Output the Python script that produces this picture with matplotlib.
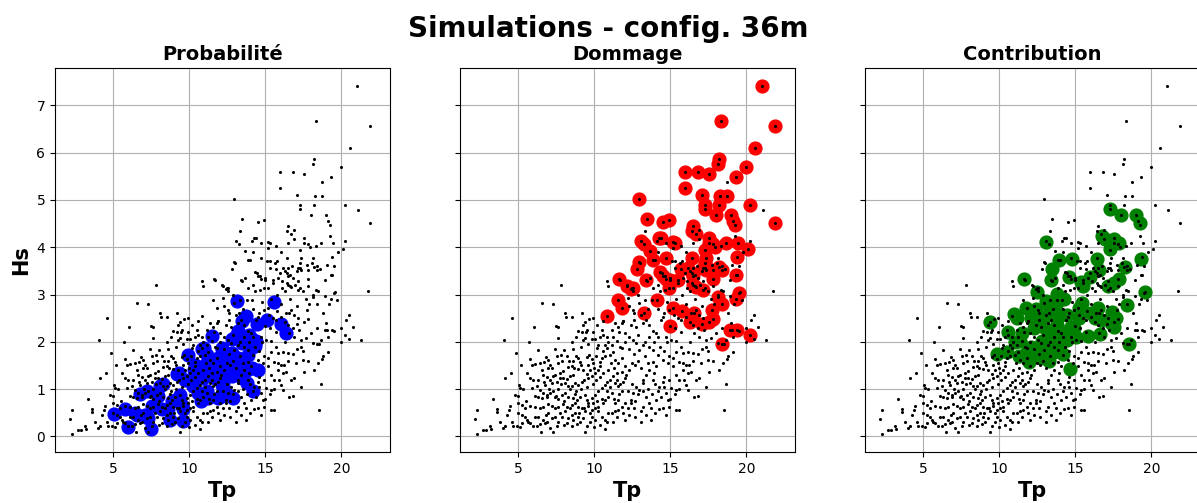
import matplotlib
matplotlib.use("Agg")
import matplotlib.pyplot as plt
import numpy as np

# sea states (Tp, Hs) not retained in the "Dommage" selection
cloud = [
    (7.80, 3.21), (6.58, 2.83), (7.30, 2.80), (4.60, 2.50), (6.05, 2.31), (8.07, 2.61), (8.11, 2.53),
    (8.51, 2.52), (9.21, 2.61), (9.65, 2.48), (9.93, 2.50), (9.38, 2.41), (9.27, 2.36), (7.63, 2.32),
    (7.48, 2.34), (8.94, 2.22), (9.21, 2.20), (9.45, 2.20), (9.49, 2.25), (9.38, 2.08), (9.27, 2.04),
    (9.82, 2.06), (10.04, 2.06), (10.37, 2.11), (10.59, 2.15), (10.81, 2.11), (10.48, 2.25), (11.14, 2.25),
    (11.36, 2.39), (11.58, 2.32), (11.80, 2.39), (12.02, 2.18), (11.91, 2.43), (4.03, 2.04), (5.72, 2.00),
    (7.58, 2.09), (6.27, 1.83), (6.80, 1.67), (6.93, 1.62), (6.71, 1.58), (7.08, 1.51), (6.97, 1.44),
    (6.53, 1.41), (6.42, 1.55), (5.76, 1.64), (6.09, 1.53), (7.41, 1.84), (8.02, 1.83), (7.80, 1.72),
    (7.52, 1.70), (8.62, 1.84), (8.77, 1.69), (8.94, 1.65), (9.05, 1.58), (9.49, 1.67), (9.65, 1.72),
    (9.82, 1.64), (9.93, 1.55), (9.71, 1.41), (9.49, 1.32), (9.27, 1.41), (8.94, 1.42), (8.68, 1.44),
    (8.51, 1.49), (8.29, 1.46), (7.96, 1.39), (7.74, 1.35), (7.41, 1.30), (7.26, 1.27), (7.08, 1.20),
    (7.19, 1.13), (7.52, 1.16), (7.74, 1.23), (7.96, 1.23), (8.18, 1.21), (8.40, 1.27), (8.62, 1.30),
    (8.07, 1.13), (8.29, 1.06), (8.51, 1.07), (8.73, 1.13), (8.94, 1.09), (9.16, 1.16), (9.34, 1.20),
    (9.60, 1.23), (9.82, 1.27), (10.04, 1.34), (10.26, 1.41), (10.37, 1.48), (10.37, 1.58), (10.48, 1.65),
    (10.70, 1.69), (11.03, 1.72), (11.25, 1.79), (11.36, 1.62), (11.58, 1.55), (11.80, 1.87), (11.84, 1.65),
    (12.02, 1.48), (10.15, 1.87), (10.26, 1.94), (10.70, 1.94), (10.81, 1.87), (11.14, 1.94), (11.47, 2.01),
    (11.69, 1.90), (4.82, 1.77), (4.49, 1.33), (4.10, 1.24), (5.04, 1.09), (5.11, 1.02), (5.76, 1.23),
    (5.98, 1.20), (6.31, 1.20), (6.71, 1.16), (6.75, 1.09), (6.20, 1.06), (5.87, 1.03), (6.42, 0.98),
    (6.64, 0.91), (6.86, 0.88), (7.08, 0.91), (6.09, 0.86), (6.31, 0.83), (6.53, 0.81), (6.86, 0.83),
    (7.41, 0.84), (7.63, 0.79), (7.85, 0.88), (8.07, 0.91), (8.29, 0.84), (8.62, 0.81), (8.84, 0.76),
    (9.05, 0.84), (9.38, 0.88), (9.49, 0.77), (9.60, 0.70), (9.82, 0.81), (10.04, 0.88), (10.26, 0.95),
    (10.48, 1.02), (10.70, 1.09), (10.81, 1.16), (11.03, 1.20), (11.25, 1.27), (11.47, 1.34), (11.80, 1.37),
    (12.02, 1.23), (11.36, 1.13), (11.58, 1.06), (11.80, 0.95), (11.14, 0.91), (10.92, 0.84), (10.70, 0.77),
    (10.59, 0.70), (10.26, 0.63), (10.04, 0.60), (9.82, 0.56), (9.71, 0.49), (9.38, 0.53), (9.16, 0.60),
    (8.94, 0.63), (8.73, 0.70), (8.51, 0.67), (8.18, 0.63), (7.96, 0.69), (7.63, 0.63), (7.41, 0.60),
    (7.19, 0.65), (6.97, 0.69), (6.64, 0.63), (6.42, 0.60), (6.09, 0.63), (5.76, 0.65), (5.44, 0.60),
    (5.22, 0.67), (4.99, 0.70), (4.78, 0.88), (4.45, 0.65), (3.31, 0.79), (3.57, 0.58), (3.62, 0.51),
    (4.23, 0.46), (2.30, 0.56), (2.15, 0.37), (2.26, 0.05), (2.69, 0.13), (2.85, 0.13), (3.13, 0.22),
    (3.18, 0.15), (4.01, 0.17), (4.12, 0.22), (4.56, 0.31), (4.67, 0.21), (4.89, 0.23), (4.99, 0.49),
    (5.11, 0.19), (5.22, 0.46), (5.22, 0.28), (5.44, 0.42), (5.55, 0.35), (5.66, 0.31), (5.76, 0.28),
    (5.98, 0.23), (6.20, 0.21), (6.31, 0.42), (6.42, 0.27), (6.64, 0.35), (6.75, 0.28), (6.80, 0.46),
    (6.97, 0.49), (7.08, 0.17), (7.30, 0.10), (7.19, 0.39), (7.41, 0.42), (7.52, 0.21), (7.63, 0.31),
    (7.74, 0.49), (7.85, 0.42), (8.07, 0.53), (8.18, 0.28), (8.29, 0.39), (8.51, 0.21), (8.62, 0.35),
    (8.73, 0.49), (8.84, 0.27), (8.94, 0.42), (9.05, 0.31), (9.27, 0.39), (9.38, 0.10), (9.49, 0.21),
    (9.71, 0.31), (9.82, 0.42), (10.04, 0.35), (10.26, 0.53), (10.48, 0.42), (10.70, 0.35), (10.81, 0.31),
    (10.92, 0.49), (11.14, 0.49), (11.36, 0.53), (11.58, 0.56), (11.80, 0.63), (12.02, 0.70), (11.58, 0.77),
    (11.36, 0.70), (10.81, 3.28), (10.92, 3.18), (11.69, 3.31), (12.13, 3.21),
    (12.30, 2.75), (12.52, 2.67), (12.96, 2.82), (13.07, 2.57), (12.63, 2.46), (12.41, 2.36), (12.74, 2.32),
    (13.18, 2.39), (13.40, 2.46), (13.62, 2.36), (13.84, 2.22), (14.06, 2.18), (14.17, 2.11), (14.39, 2.46),
    (14.50, 2.53), (14.61, 2.60), (14.94, 2.67), (15.26, 2.57), (15.48, 2.50), (15.70, 2.46), (16.03, 2.53),
    (16.36, 2.60), (16.69, 2.67), (16.91, 2.57), (17.13, 2.50), (16.47, 2.36), (16.58, 2.18), (16.91, 2.11),
    (17.35, 2.04), (17.68, 2.08), (18.00, 2.18), (17.35, 1.90), (18.11, 1.97), (18.66, 2.04), (19.10, 2.11),
    (19.54, 2.22), (19.98, 2.29), (20.31, 2.46), (20.53, 2.57), (20.75, 2.32), (21.30, 2.03), (14.72, 2.11),
    (15.04, 2.04), (15.37, 2.01), (15.70, 1.90), (15.37, 1.79), (15.81, 1.76), (16.14, 1.79), (16.47, 1.77),
    (15.59, 1.58), (16.03, 1.51), (15.81, 1.41), (16.14, 1.34), (16.36, 1.37), (16.69, 1.20), (16.91, 1.23),
    (17.02, 1.55), (17.46, 1.62), (17.57, 1.37), (17.35, 1.05), (16.03, 1.09), (16.14, 0.98), (15.37, 0.98),
    (15.59, 1.20), (14.61, 1.26), (14.50, 1.16), (14.28, 1.05), (14.17, 0.95), (14.39, 0.84), (14.72, 0.91),
    (14.83, 0.77), (14.94, 0.63), (15.37, 0.56), (15.04, 1.02), (15.15, 1.48), (14.83, 1.55), (14.50, 1.62),
    (14.17, 1.72), (13.84, 1.83), (13.62, 1.90), (13.18, 1.93), (12.96, 1.83), (12.74, 1.97), (12.52, 2.04),
    (12.30, 2.11), (13.84, 1.58), (14.06, 1.48), (13.62, 1.41), (13.40, 1.30), (13.84, 1.20), (13.18, 1.12),
    (12.96, 0.98), (12.74, 1.05), (12.52, 0.91), (13.40, 0.84), (13.62, 0.70), (14.06, 0.77), (13.18, 0.63),
    (12.63, 0.60), (13.07, 0.53), (13.73, 0.60), (14.28, 0.58), (13.07, 0.31), (12.41, 0.77), (16.58, 0.84),
    (18.55, 0.56), (18.71, 1.63), (18.77, 1.69), (18.44, 1.55), (19.10, 1.79), (19.98, 2.00), (18.67, 1.11),
    (18.55, 1.96), (19.00, 2.40), (19.08, 2.26), (20.53, 2.06), (15.60, 0.55), (16.83, 0.85),
    (13.01, 3.67), (13.99, 3.74), (15.09, 3.70), (15.31, 3.56), (15.64, 3.67), (15.97, 3.46), (16.30, 3.49),
    (16.52, 3.56), (16.73, 3.60), (17.06, 3.49), (17.28, 3.56), (17.72, 3.63), (18.05, 3.67), (18.38, 3.60),
    (18.60, 3.53), (19.04, 3.63), (19.37, 3.42), (16.62, 3.42), (16.84, 3.35), (17.17, 3.28), (16.41, 3.25),
    (16.08, 3.28), (15.86, 3.35), (15.53, 3.25), (14.98, 3.35), (14.65, 3.39), (14.43, 3.46), (13.66, 3.35),
    (13.45, 3.28), (13.88, 3.14), (14.21, 3.21), (14.32, 3.07), (14.65, 3.10), (15.20, 3.14), (15.75, 3.00),
    (16.08, 3.14), (16.30, 3.07), (16.62, 3.17), (16.95, 3.21), (17.28, 3.14), (17.50, 3.07), (17.83, 3.17),
    (18.16, 3.00), (18.49, 3.07), (18.93, 2.96), (19.59, 3.05), (19.70, 2.88), (12.90, 3.00), (12.57, 3.07),
    (12.46, 3.14), (12.24, 2.93), (13.34, 2.89), (13.77, 2.89), (21.78, 3.07),
    (18.75, 5.37), (21.10, 4.78), (13.34, 4.34), (19.23, 4.23), (20.27, 4.14), (16.91, 4.37), (16.88, 4.18),
    (15.68, 4.03), (16.51, 4.09), (18.36, 4.03), (15.15, 3.98), (15.29, 3.70), (15.75, 3.70), (18.16, 3.77),
    (14.13, 4.14), (14.70, 4.09),
]

# denser core of the cloud, estimated
core = [
    (8.40, 1.00), (8.80, 0.95), (9.10, 1.00), (9.50, 1.05), (9.90, 1.10), (10.10, 1.20), (10.40, 1.25),
    (10.60, 1.35), (10.90, 1.40), (11.10, 1.55), (11.30, 1.45), (11.50, 1.20), (11.70, 1.10), (11.90, 1.15),
    (12.10, 1.30), (12.30, 1.40), (12.50, 1.55), (12.70, 1.50), (12.90, 1.60), (13.10, 1.45), (13.30, 1.70),
    (13.50, 1.55), (9.00, 0.50), (9.30, 0.60), (9.60, 0.65), (9.90, 0.70), (10.20, 0.75), (10.50, 0.80),
    (10.80, 0.95), (11.00, 1.05), (11.30, 0.80), (11.60, 0.90), (11.90, 0.50), (12.20, 0.60), (12.40, 0.70),
    (12.70, 0.75), (12.90, 0.90), (13.20, 0.95), (13.50, 1.00), (13.80, 0.90), (14.00, 1.10), (8.30, 1.60),
    (8.60, 1.60), (9.10, 1.50), (9.60, 1.50), (10.00, 1.45), (10.10, 1.70), (10.60, 1.80), (10.90, 2.00),
    (11.20, 2.10), (11.60, 2.20), (12.00, 2.00), (12.30, 1.85), (12.60, 1.75), (12.90, 2.15), (13.30, 2.00),
    (13.60, 2.10), (13.90, 2.00), (14.30, 1.90), (14.60, 1.80), (14.90, 1.70), (15.20, 1.65), (7.00, 1.00),
    (7.30, 0.95), (7.60, 1.00), (7.80, 1.10), (8.00, 0.75), (8.40, 0.60), (8.70, 0.90), (6.60, 1.30),
    (6.90, 1.25), (7.20, 1.45), (7.60, 1.55), (7.90, 1.60), (8.20, 1.70), (8.50, 2.00), (8.80, 2.10),
    (9.10, 1.90), (9.60, 1.95), (9.90, 2.20), (10.20, 2.35), (10.60, 2.45), (10.00, 0.20), (10.40, 0.25),
    (10.70, 0.15), (11.20, 0.30), (11.50, 0.40), (12.00, 0.35), (12.30, 0.45), (12.70, 0.40), (13.40, 0.45),
    (13.70, 0.35), (14.00, 0.50), (14.50, 0.60), (14.70, 0.45), (15.00, 0.80), (15.30, 0.90), (15.60, 1.00),
    (15.90, 1.20), (16.20, 1.50), (16.50, 1.60), (16.80, 1.75), (17.10, 1.85), (17.50, 1.80), (17.80, 1.60),
    (18.20, 1.40), (15.40, 1.30), (15.80, 1.55), (16.30, 2.00), (16.80, 2.30), (17.20, 2.25), (18.40, 2.30),
    (18.80, 2.60), (19.20, 2.80), (17.90, 2.80), (15.70, 2.20), (15.30, 2.30), (14.80, 2.00), (14.60, 1.05),
    (14.90, 1.20), (13.90, 1.35), (13.20, 1.20), (12.50, 1.10), (12.20, 0.95), (11.90, 2.45), (12.60, 2.60),
    (13.50, 2.70), (14.20, 2.70), (14.80, 2.85), (15.40, 2.90), (16.00, 2.80), (16.60, 2.90), (17.10, 2.75),
    (17.70, 2.90), (18.30, 3.10), (18.90, 3.30), (19.50, 3.60), (19.80, 3.90), (16.00, 3.90), (14.20, 3.90),
    (3.80, 0.30), (4.40, 0.55), (5.00, 0.85), (5.30, 1.00), (5.50, 0.75), (5.60, 1.35), (5.90, 1.50),
    (6.10, 0.40), (6.50, 0.10), (6.90, 0.30), (7.50, 0.85), (8.00, 0.25), (8.50, 0.45), (5.20, 1.50),
]

# Dommage selection (red)
red = [
    (21.03, 7.40), (18.36, 6.66), (21.89, 6.56), (20.59, 6.10), (18.18, 5.87), (18.11, 5.76), (15.94, 5.60),
    (16.80, 5.60), (17.52, 5.54), (20.00, 5.70), (19.34, 5.48), (15.94, 5.25), (17.06, 5.10), (18.25, 5.08),
    (18.73, 5.08), (12.96, 5.03), (17.30, 4.89), (17.28, 4.80), (18.18, 4.89), (17.99, 4.69), (18.97, 4.69),
    (20.27, 4.90), (19.11, 4.55), (19.25, 4.48), (21.89, 4.52), (13.49, 4.60), (14.52, 4.53), (14.91, 4.57),
    (16.51, 4.44), (16.43, 4.35), (16.71, 4.27), (13.09, 4.13), (13.29, 4.06), (14.23, 4.19), (14.39, 4.20),
    (15.18, 4.12), (15.28, 4.08), (17.52, 4.20), (17.56, 4.08), (17.83, 4.07), (17.96, 4.01), (17.28, 3.95),
    (18.64, 4.09), (19.43, 4.09), (20.11, 3.97), (13.67, 3.91), (12.94, 3.69), (13.89, 3.74), (14.71, 3.77),
    (16.43, 3.77), (17.35, 3.77), (19.36, 3.79), (12.81, 3.54), (14.29, 3.48), (14.54, 3.40), (14.71, 3.32),
    (15.68, 3.54), (16.14, 3.56), (16.43, 3.45), (16.51, 3.39), (17.17, 3.56), (17.35, 3.52), (17.78, 3.52),
    (18.18, 3.59), (18.40, 3.51), (17.78, 3.32), (19.32, 3.41), (17.30, 3.66), (11.60, 3.32), (12.18, 3.18),
    (12.57, 3.13), (12.41, 3.11), (13.40, 3.31), (14.98, 3.31), (14.93, 3.13), (15.48, 3.31), (16.47, 3.20),
    (16.69, 3.15), (17.17, 3.10), (19.54, 3.04), (19.32, 2.90), (11.54, 2.89), (11.80, 2.71), (10.82, 2.54),
    (13.28, 2.61), (14.15, 2.89), (15.16, 2.72), (15.77, 2.66), (14.98, 2.34), (16.29, 2.41), (16.58, 2.60),
    (17.08, 2.37), (17.74, 2.67), (17.83, 2.48), (17.52, 2.41), (18.11, 2.94), (18.40, 2.80), (18.95, 2.24),
    (19.36, 2.24), (20.27, 2.15), (18.40, 1.96),
]

# Probabilite selection (blue)
blue = [
    (5.05, 0.48), (5.77, 0.58), (5.99, 0.20), (6.54, 0.45), (6.43, 0.50), (7.09, 0.46), (7.31, 0.39),
    (7.46, 0.16), (7.52, 0.64), (6.76, 0.90), (7.20, 0.97), (8.07, 1.06), (8.29, 1.10), (7.96, 0.85),
    (8.18, 0.57), (8.62, 0.57), (8.73, 0.34), (8.84, 0.74), (9.06, 0.78), (9.39, 0.88), (9.61, 0.57),
    (9.61, 0.32), (9.50, 0.67), (9.17, 1.31), (9.32, 1.34), (9.72, 1.20), (9.90, 1.73), (10.37, 1.52),
    (10.33, 1.41), (10.81, 1.84), (10.99, 1.87), (11.14, 1.73), (10.92, 1.23), (10.59, 0.92), (10.77, 0.74),
    (11.14, 0.95), (11.25, 0.81), (11.47, 2.12), (11.69, 1.59), (11.91, 1.66), (11.69, 1.23), (12.13, 1.87),
    (12.13, 1.09), (11.91, 0.81), (12.13, 0.88), (10.26, 1.07), (10.50, 1.30), (11.40, 1.45), (11.00, 1.50),
    (13.16, 2.86), (15.58, 2.84), (13.71, 2.54), (13.45, 2.43), (13.23, 2.22), (14.45, 2.38), (15.12, 2.47),
    (16.04, 2.38), (16.37, 2.19), (12.79, 2.05), (13.00, 2.10), (13.45, 1.98), (13.95, 2.14), (14.39, 2.01),
    (14.06, 2.08), (12.13, 1.84), (12.45, 1.70), (12.79, 1.77), (13.23, 1.66), (13.88, 1.73), (14.10, 1.88),
    (14.32, 1.91), (12.02, 1.44), (12.45, 1.48), (12.89, 1.38), (13.34, 1.52), (13.77, 1.41), (14.10, 1.44),
    (14.54, 1.41), (12.34, 1.23), (12.79, 1.27), (13.56, 1.34), (13.45, 1.23), (13.77, 1.13), (12.24, 1.06),
    (12.57, 0.88), (12.89, 0.81), (14.21, 0.95), (12.13, 0.85),
]

# Contribution selection (green)
green = [
    (17.26, 4.81), (17.99, 4.68), (19.00, 4.69), (19.24, 4.52), (13.09, 4.12), (16.73, 4.24), (16.95, 4.17),
    (17.55, 4.18), (17.88, 4.08), (17.26, 3.96), (13.94, 3.74), (14.80, 3.76), (16.45, 3.76), (16.56, 3.52),
    (18.25, 3.59), (19.35, 3.76), (13.48, 3.53), (13.41, 3.31), (14.58, 3.36), (15.35, 3.27), (15.52, 3.17),
    (15.96, 3.38), (17.88, 3.32), (17.55, 3.24), (17.15, 3.17), (11.65, 3.32), (12.49, 3.06), (19.59, 3.05),
    (13.09, 2.87), (13.81, 3.02), (14.25, 2.91), (15.46, 2.83), (15.24, 2.71), (11.76, 2.71), (10.95, 2.58),
    (11.17, 2.50), (12.38, 2.70), (13.26, 2.75), (13.70, 2.78), (12.05, 2.50), (12.71, 2.53), (13.26, 2.57),
    (13.92, 2.55), (14.47, 2.57), (15.24, 2.50), (14.69, 2.32), (16.52, 2.71), (16.30, 2.51), (16.67, 2.46),
    (17.44, 2.64), (17.66, 2.50), (17.37, 2.39), (17.55, 2.32), (18.41, 2.77), (9.41, 2.41), (11.50, 2.18),
    (11.39, 2.01), (12.05, 1.90), (12.82, 2.01), (13.48, 2.18), (14.03, 2.11), (14.47, 2.04), (15.02, 2.11),
    (15.86, 2.13), (16.62, 2.16), (18.54, 1.96), (10.51, 1.79), (9.86, 1.75), (11.28, 1.69), (11.94, 1.58),
    (12.71, 1.65), (13.26, 1.60), (13.59, 1.79), (14.18, 1.75), (14.62, 1.42), (11.83, 1.79), (13.15, 1.83),
    (13.81, 1.86), (12.30, 2.30), (13.00, 2.30), (13.80, 2.35), (14.30, 2.20), (12.50, 1.80), (13.60, 2.00),
    (14.90, 2.30), (16.00, 2.60), (10.60, 2.20), (11.00, 2.00),
]

tp_cloud, hs_cloud = np.array(cloud + core).T
tp_red, hs_red = np.array(red).T
tp_blue, hs_blue = np.array(blue).T
tp_green, hs_green = np.array(green).T
tp_all = np.concatenate([tp_cloud, tp_red])
hs_all = np.concatenate([hs_cloud, hs_red])

panels = [("Probabilité", tp_blue, hs_blue, "blue"),
          ("Dommage", tp_red, hs_red, "red"),
          ("Contribution", tp_green, hs_green, "green")]

fig = plt.figure(figsize=(11.97, 5.03), dpi=100)
lefts = [55, 460, 865]
axes = []
for i, (title, tx, hy, col) in enumerate(panels):
    ax = fig.add_axes([lefts[i] / 1197, 51 / 503, 335 / 1197, 384 / 503],
                      sharey=axes[0] if axes else None)
    ax.scatter(tx, hy, s=85, color=col, zorder=2)
    ax.scatter(tp_all, hs_all, s=1.5, color="black", zorder=3)
    ax.set_xlim(1.16, 23.2)
    ax.set_ylim(-0.33, 7.79)
    ax.set_xticks([5, 10, 15, 20])
    ax.set_yticks(range(8))
    ax.grid(True, zorder=0)
    ax.set_axisbelow(True)
    ax.set_title(title, fontsize=14, fontweight="bold")
    ax.set_xlabel("Tp", fontsize=15, fontweight="bold")
    if i == 0:
        ax.set_ylabel("Hs", fontsize=15, fontweight="bold")
    else:
        ax.tick_params(labelleft=False)
    axes.append(ax)

fig.text(0.508, 0.942, "Simulations - config. 36m", ha="center", va="center",
         fontsize=20, fontweight="bold")

fig.savefig("out.png", dpi=100)
